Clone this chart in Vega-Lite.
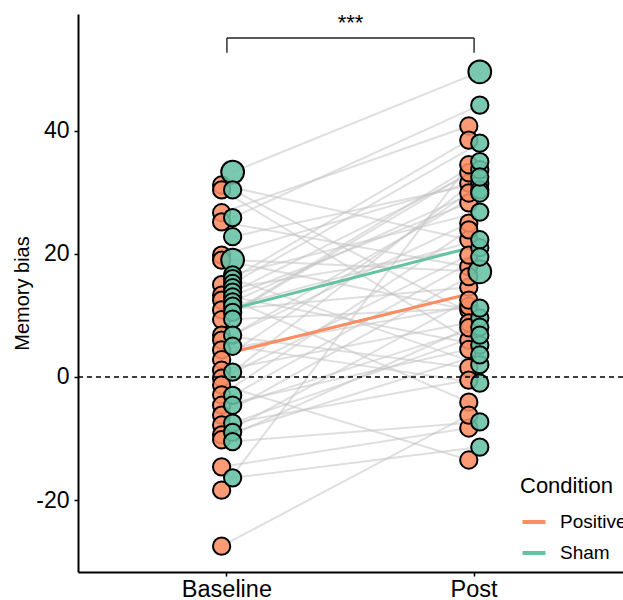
{
  "$schema": "https://vega.github.io/schema/vega-lite/v6.json",
  "width": 545,
  "height": 558,
  "autosize": {"type": "none"},
  "padding": {"left": 78, "top": 14, "right": 0, "bottom": 28},
  "background": "white",
  "config": {
    "view": {"stroke": null},
    "font": "Liberation Sans",
    "axis": {"grid": false, "domainColor": "black", "domainWidth": 2, "tickColor": "black", "tickWidth": 1.5, "tickSize": 4, "labelColor": "black", "titleColor": "black", "titleFontWeight": "normal"},
    "legend": {"titleFontWeight": "normal"}
  },
  "datasets": {
    "subjects": [
      {"id": 1, "Condition": "Positive", "Baseline": 31.2, "Post": 22.3, "n": 1},
      {"id": 2, "Condition": "Positive", "Baseline": 30.4, "Post": 6.0, "n": 1},
      {"id": 3, "Condition": "Positive", "Baseline": 26.7, "Post": 40.8, "n": 1},
      {"id": 4, "Condition": "Positive", "Baseline": 25.2, "Post": 17.9, "n": 1},
      {"id": 5, "Condition": "Positive", "Baseline": 19.8, "Post": 31.5, "n": 1},
      {"id": 6, "Condition": "Positive", "Baseline": 19.0, "Post": 10.9, "n": 1},
      {"id": 7, "Condition": "Positive", "Baseline": 15.0, "Post": 38.5, "n": 1},
      {"id": 8, "Condition": "Positive", "Baseline": 13.3, "Post": -4.1, "n": 1},
      {"id": 9, "Condition": "Positive", "Baseline": 12.5, "Post": 28.3, "n": 1},
      {"id": 10, "Condition": "Positive", "Baseline": 10.9, "Post": 14.6, "n": 1},
      {"id": 11, "Condition": "Positive", "Baseline": 9.3, "Post": 33.2, "n": 1},
      {"id": 12, "Condition": "Positive", "Baseline": 6.8, "Post": 1.5, "n": 1},
      {"id": 13, "Condition": "Positive", "Baseline": 6.0, "Post": 25.0, "n": 1},
      {"id": 14, "Condition": "Positive", "Baseline": 4.4, "Post": 11.5, "n": 1},
      {"id": 15, "Condition": "Positive", "Baseline": 2.8, "Post": 29.9, "n": 1},
      {"id": 16, "Condition": "Positive", "Baseline": 1.1, "Post": 8.8, "n": 1},
      {"id": 17, "Condition": "Positive", "Baseline": -0.2, "Post": 19.8, "n": 1},
      {"id": 18, "Condition": "Positive", "Baseline": -1.3, "Post": -13.5, "n": 1},
      {"id": 19, "Condition": "Positive", "Baseline": -2.9, "Post": 23.9, "n": 1},
      {"id": 20, "Condition": "Positive", "Baseline": -4.6, "Post": 4.5, "n": 1},
      {"id": 21, "Condition": "Positive", "Baseline": -6.2, "Post": 16.3, "n": 1},
      {"id": 22, "Condition": "Positive", "Baseline": -7.8, "Post": -0.5, "n": 1},
      {"id": 23, "Condition": "Positive", "Baseline": -9.4, "Post": 12.5, "n": 1},
      {"id": 24, "Condition": "Positive", "Baseline": -10.2, "Post": 8.0, "n": 1},
      {"id": 25, "Condition": "Positive", "Baseline": -14.6, "Post": -8.3, "n": 1},
      {"id": 26, "Condition": "Positive", "Baseline": -18.4, "Post": 34.5, "n": 1},
      {"id": 27, "Condition": "Positive", "Baseline": -27.5, "Post": -6.2, "n": 1},
      {"id": 28, "Condition": "Sham", "Baseline": 33.3, "Post": 49.6, "n": 2},
      {"id": 29, "Condition": "Sham", "Baseline": 30.4, "Post": 9.6, "n": 1},
      {"id": 30, "Condition": "Sham", "Baseline": 25.9, "Post": 44.2, "n": 1},
      {"id": 31, "Condition": "Sham", "Baseline": 22.8, "Post": 31.5, "n": 1},
      {"id": 32, "Condition": "Sham", "Baseline": 19.0, "Post": 17.1, "n": 2},
      {"id": 33, "Condition": "Sham", "Baseline": 16.6, "Post": 26.8, "n": 1},
      {"id": 34, "Condition": "Sham", "Baseline": 16.0, "Post": 2.0, "n": 1},
      {"id": 35, "Condition": "Sham", "Baseline": 15.2, "Post": 38.0, "n": 1},
      {"id": 36, "Condition": "Sham", "Baseline": 14.5, "Post": 21.0, "n": 1},
      {"id": 37, "Condition": "Sham", "Baseline": 13.8, "Post": 33.7, "n": 1},
      {"id": 38, "Condition": "Sham", "Baseline": 13.0, "Post": 5.2, "n": 1},
      {"id": 39, "Condition": "Sham", "Baseline": 12.2, "Post": 30.4, "n": 1},
      {"id": 40, "Condition": "Sham", "Baseline": 11.5, "Post": 22.3, "n": 1},
      {"id": 41, "Condition": "Sham", "Baseline": 10.5, "Post": 35.0, "n": 1},
      {"id": 42, "Condition": "Sham", "Baseline": 9.4, "Post": 11.2, "n": 1},
      {"id": 43, "Condition": "Sham", "Baseline": 6.8, "Post": 29.9, "n": 1},
      {"id": 44, "Condition": "Sham", "Baseline": 5.0, "Post": -1.0, "n": 1},
      {"id": 45, "Condition": "Sham", "Baseline": 0.8, "Post": 32.5, "n": 1},
      {"id": 46, "Condition": "Sham", "Baseline": -3.0, "Post": 19.5, "n": 1},
      {"id": 47, "Condition": "Sham", "Baseline": -4.6, "Post": 8.1, "n": 1},
      {"id": 48, "Condition": "Sham", "Baseline": -7.5, "Post": 6.8, "n": 1},
      {"id": 49, "Condition": "Sham", "Baseline": -9.0, "Post": 3.6, "n": 1},
      {"id": 50, "Condition": "Sham", "Baseline": -10.5, "Post": -7.3, "n": 1},
      {"id": 51, "Condition": "Sham", "Baseline": -16.4, "Post": -11.4, "n": 1}
    ],
    "means": [
      {"Condition": "Positive", "Time": "Baseline", "value": 3.6},
      {"Condition": "Positive", "Time": "Post", "value": 13.5},
      {"Condition": "Sham", "Time": "Baseline", "value": 11.1},
      {"Condition": "Sham", "Time": "Post", "value": 21.4}
    ],
    "bracket": [
      {"Time": "Baseline", "Time2": "Post", "value": 55.1, "value2": 55.1},
      {"Time": "Baseline", "Time2": "Baseline", "value": 52.7, "value2": 55.1},
      {"Time": "Post", "Time2": "Post", "value": 52.7, "value2": 55.1}
    ],
    "stars": [
      {"Time": "mid", "value": 57.6, "label": "***"}
    ]
  },
  "layer": [
    {
      "data": {"name": "subjects"},
      "transform": [{"fold": ["Baseline", "Post"], "as": ["Time", "value"]}],
      "mark": {"type": "line", "color": "#c4c4c4", "opacity": 0.55, "strokeWidth": 2},
      "encoding": {
        "x": {"field": "Time", "type": "nominal", "scale": {"type": "band", "domain": ["Baseline", "mid", "Post"], "paddingInner": 0.5, "paddingOuter": 0.955}, "axis": {"title": null, "values": ["Baseline", "Post"], "labelFontSize": 23.5, "labelAngle": 0, "labelPadding": 1}},
        "xOffset": {"field": "Condition", "type": "nominal", "scale": {"domain": ["Positive", "Sham"], "range": [25.6, 36.6], "padding": 0}},
        "y": {"field": "value", "type": "quantitative", "scale": {"domain": [-31.7, 59], "nice": false, "zero": false}, "axis": {"title": "Memory bias", "titleFontSize": 20, "labelFontSize": 23, "values": [-20, 0, 20, 40], "labelExpr": "replace(datum.label, '\u2212', '-')", "titlePadding": 3, "labelPadding": 5}},
        "detail": {"field": "id", "type": "nominal"}
      }
    },
    {
      "data": {"name": "means"},
      "mark": {"type": "line", "strokeWidth": 3},
      "encoding": {
        "x": {"field": "Time", "type": "nominal"},
        "xOffset": {"field": "Condition", "type": "nominal"},
        "y": {"field": "value", "type": "quantitative"},
        "color": {"field": "Condition", "type": "nominal", "scale": {"domain": ["Positive", "Sham"], "range": ["#FC8D62", "#66C2A5"]},
          "legend": {"orient": "none", "legendX": 442, "legendY": 462, "title": "Condition", "titleFontSize": 22, "labelFontSize": 19, "symbolType": "stroke", "symbolStrokeWidth": 4, "symbolSize": 530, "labelOffset": 12, "rowPadding": 7, "titlePadding": 10, "labelColor": "black", "titleColor": "black"}}
      }
    },
    {
      "data": {"name": "subjects"},
      "transform": [{"fold": ["Baseline", "Post"], "as": ["Time", "value"]}],
      "mark": {"type": "point", "shape": "circle", "filled": true, "fillOpacity": 0.88, "stroke": "black", "strokeWidth": 2, "strokeOpacity": 1},
      "encoding": {
        "x": {"field": "Time", "type": "nominal"},
        "xOffset": {"field": "Condition", "type": "nominal"},
        "y": {"field": "value", "type": "quantitative"},
        "fill": {"field": "Condition", "type": "nominal", "scale": {"domain": ["Positive", "Sham"], "range": ["#FC8D62", "#66C2A5"]}, "legend": null},
        "size": {"field": "n", "type": "quantitative", "scale": {"domain": [1, 2], "range": [300, 520]}, "legend": null}
      }
    },
    {
      "data": {"values": [{"value": 0}]},
      "mark": {"type": "rule", "color": "black", "strokeWidth": 1.3, "strokeDash": [5, 4]},
      "encoding": {"y": {"field": "value", "type": "quantitative"}}
    },
    {
      "data": {"name": "bracket"},
      "mark": {"type": "rule", "color": "#222222", "strokeWidth": 1.4},
      "encoding": {
        "x": {"field": "Time", "type": "nominal"},
        "x2": {"field": "Time2"},
        "y": {"field": "value", "type": "quantitative"},
        "y2": {"field": "value2"}
      }
    },
    {
      "data": {"name": "stars"},
      "mark": {"type": "text", "fontSize": 22, "color": "black", "baseline": "middle"},
      "encoding": {
        "x": {"field": "Time", "type": "nominal"},
        "y": {"field": "value", "type": "quantitative"},
        "text": {"field": "label"}
      }
    }
  ]
}
